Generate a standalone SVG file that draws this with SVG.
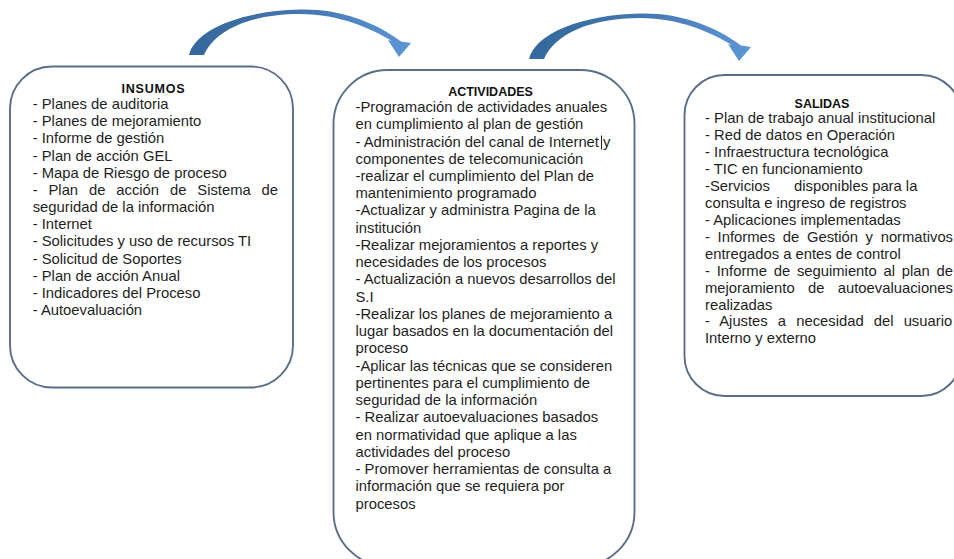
<svg xmlns="http://www.w3.org/2000/svg" width="954" height="559" viewBox="0 0 954 559">
<defs>
<linearGradient id="ag" x1="0" y1="0" x2="1" y2="0">
<stop offset="0" stop-color="#34679b"/>
<stop offset="0.55" stop-color="#4679b3"/>
<stop offset="1" stop-color="#5d96d6"/>
</linearGradient>
<style>
.box{fill:#ffffff;stroke:#5a6e86;stroke-width:1.9}
.t{font-family:"Liberation Sans",Arial,sans-serif;font-size:14.8px;fill:#1e1e1e}
.h{font-family:"Liberation Sans",Arial,sans-serif;font-size:12.5px;font-weight:bold;fill:#111111;text-anchor:middle}
.arrow{fill:url(#ag)}
</style>
</defs>
<rect width="954" height="559" fill="#ffffff"/>
<g id="connectors">
<path id="arrow1" class="arrow" d="M189,55 C195,30 240,11 300,9.5 C340,8.5 375,22 401,41.5 L411,43 L399,57 L388,40 L392,41 C372,29 340,14 300,14 C250,14 215,30 204,55 Z"/>
<path id="arrow2" class="arrow" transform="translate(340,4)" d="M189,55 C195,30 240,11 300,9.5 C340,8.5 375,22 401,41.5 L411,43 L399,57 L388,40 L392,41 C372,29 340,14 300,14 C250,14 215,30 204,55 Z"/>
</g>
<g id="insumos">
<rect class="box" x="10" y="66.5" width="283" height="321" rx="42" ry="42"/>
<text class="h" x="153.4" y="93" letter-spacing="0.8">INSUMOS</text>
<text class="t" x="32.7" y="109">- Planes de auditoria</text>
<text class="t" x="32.7" y="126.2">- Planes de mejoramiento</text>
<text class="t" x="32.7" y="143.3">- Informe de gestión</text>
<text class="t" x="32.7" y="160.5">- Plan de acción GEL</text>
<text class="t" x="32.7" y="177.7">- Mapa de Riesgo de proceso</text>
<text class="t" x="32.7" y="194.9" word-spacing="6.76">- Plan de acción de Sistema de</text>
<text class="t" x="32.7" y="212">seguridad de la información</text>
<text class="t" x="32.7" y="229.2">- Internet</text>
<text class="t" x="32.7" y="246.4">- Solicitudes y uso de recursos TI</text>
<text class="t" x="32.7" y="263.5">- Solicitud de Soportes</text>
<text class="t" x="32.7" y="280.7">- Plan de acción Anual</text>
<text class="t" x="32.7" y="297.9">- Indicadores del Proceso</text>
<text class="t" x="32.7" y="315">- Autoevaluación</text>
</g>
<g id="actividades">
<rect class="box" x="333.5" y="70" width="301" height="496" rx="54" ry="54"/>
<text class="h" x="490.5" y="96">ACTIVIDADES</text>
<text class="t" x="355.5" y="112">-Programación de actividades anuales</text>
<text class="t" x="355.5" y="129.2">en cumplimiento al plan de gestión</text>
<text class="t" x="355.5" y="146.5">- Administración del canal de Internet y</text>
<line x1="601.5" y1="135.5" x2="601.5" y2="149.5" stroke="#1e1e1e" stroke-width="1"/>
<text class="t" x="355.5" y="163.7">componentes de telecomunicación</text>
<text class="t" x="355.5" y="181">-realizar el cumplimiento del Plan de</text>
<text class="t" x="355.5" y="198.2">mantenimiento programado</text>
<text class="t" x="355.5" y="215.4">-Actualizar y administra Pagina de la</text>
<text class="t" x="355.5" y="232.7">institución</text>
<text class="t" x="355.5" y="249.9">-Realizar mejoramientos a reportes y</text>
<text class="t" x="355.5" y="267.2">necesidades de los procesos</text>
<text class="t" x="355.5" y="284.4">- Actualización a nuevos desarrollos del</text>
<text class="t" x="355.5" y="301.6">S.I</text>
<text class="t" x="355.5" y="318.9">-Realizar los planes de mejoramiento a</text>
<text class="t" x="355.5" y="336.1">lugar basados en la documentación del</text>
<text class="t" x="355.5" y="353.4">proceso</text>
<text class="t" x="355.5" y="370.6">-Aplicar las técnicas que se consideren</text>
<text class="t" x="355.5" y="387.8">pertinentes para el cumplimiento de</text>
<text class="t" x="355.5" y="405.1">seguridad de la información</text>
<text class="t" x="355.5" y="422.3">- Realizar autoevaluaciones basados</text>
<text class="t" x="355.5" y="439.6">en normatividad que aplique a las</text>
<text class="t" x="355.5" y="456.8">actividades del proceso</text>
<text class="t" x="355.5" y="474">- Promover herramientas de consulta a</text>
<text class="t" x="355.5" y="491.3">información que se requiera por</text>
<text class="t" x="355.5" y="508.5">procesos</text>
</g>
<g id="salidas">
<rect class="box" x="684.5" y="75" width="277" height="321" rx="40" ry="40"/>
<text class="h" x="822" y="108">SALIDAS</text>
<text class="t" x="705" y="123">- Plan de trabajo anual institucional</text>
<text class="t" x="705" y="140">- Red de datos en Operación</text>
<text class="t" x="705" y="156.9">- Infraestructura tecnológica</text>
<text class="t" x="705" y="173.9">- TIC en funcionamiento</text>
<text class="t" x="705" y="190.8">-Servicios<tspan x="794">disponibles para la</tspan></text>
<text class="t" x="705" y="207.8">consulta e ingreso de registros</text>
<text class="t" x="705" y="224.7">- Aplicaciones implementadas</text>
<text class="t" x="705" y="241.7" word-spacing="3.55">- Informes de Gestión y normativos</text>
<text class="t" x="705" y="258.6">entregados a entes de control</text>
<text class="t" x="705" y="275.6" word-spacing="2.67">- Informe de seguimiento al plan de</text>
<text class="t" x="705" y="292.5" word-spacing="9.24">mejoramiento de autoevaluaciones</text>
<text class="t" x="705" y="309.5">realizadas</text>
<text class="t" x="705" y="326.4" word-spacing="6">- Ajustes a necesidad del usuario</text>
<text class="t" x="705" y="343.4">Interno y externo</text>
</g>
</svg>
